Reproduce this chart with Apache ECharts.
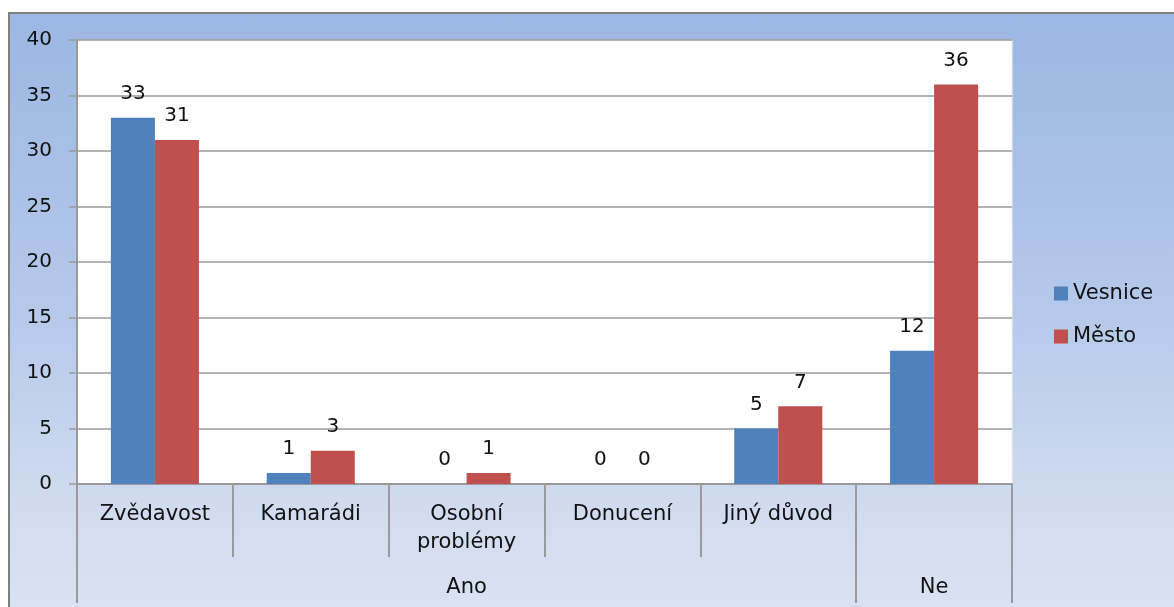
<!DOCTYPE html>
<html>
<head>
<meta charset="utf-8">
<script src="https://cdn.jsdelivr.net/npm/echarts@6/dist/echarts.min.js"></script>
<style>
  html, body { margin: 0; padding: 0; background: #ffffff; width: 1174px; height: 607px; overflow: hidden; }
  #frame {
    position: absolute; left: 8px; top: 12px; width: 1200px; height: 640px;
    border-left: 2px solid #7f7f7f; border-top: 2px solid #7f7f7f;
    background: linear-gradient(to bottom, #9bb7e3 0%, #b4c8ea 45%, #d3ddf0 80%, #dde5f3 100%);
  }
  #chart { position: absolute; left: 0; top: 0; width: 1174px; height: 607px; }
</style>
</head>
<body>
<div id="frame"></div>
<div id="chart"></div>
<script>
// Reasons (first level) grouped by answer (second level)
const categories = ['Zvědavost', 'Kamarádi', 'Osobní\nproblémy', 'Donucení', 'Jiný důvod', ''];
const groupLabels = ['', '', 'Ano', '', '', 'Ne'];
const groupStarts = [0, 5];           // first category index of each group
const vesnice = [33, 1, 0, 0, 5, 12];
const mesto = [31, 3, 1, 0, 7, 36];
const seriesNames = ['Vesnice', 'Město'];
const yTicks = { min: 0, max: 40, interval: 5 };

const FONT = 'DejaVu Sans';
const gridGray = '#9a9a9a';
const textColor = '#111111';

const chart = echarts.init(document.getElementById('chart'), null, { renderer: 'canvas' });

const labelStyle = {
  show: true,
  position: 'top',
  distance: 14,
  color: textColor,
  fontFamily: FONT,
  fontSize: 20
};

chart.setOption({
  backgroundColor: 'transparent',
  animation: false,
  textStyle: { fontFamily: FONT },
  grid: {
    left: 77, right: 162, top: 40, bottom: 123,
    show: true, backgroundColor: '#ffffff', borderWidth: 1, borderColor: '#f2f2f2',
    containLabel: false
  },
  legend: {
    orient: 'vertical',
    left: 1054, top: 283,
    padding: 0,
    itemWidth: 14, itemHeight: 14, itemGap: 22,
    icon: 'rect',
    textStyle: { fontFamily: FONT, fontSize: 21, color: textColor },
    data: seriesNames
  },
  xAxis: [
    {
      type: 'category',
      data: categories,
      position: 'bottom',
      axisLine: { show: true, lineStyle: { color: gridGray, width: 2 } },
      axisTick: { show: true, length: 73, interval: 0, lineStyle: { color: gridGray, width: 2 } },
      axisLabel: {
        interval: 0, margin: 17, color: textColor,
        fontFamily: FONT, fontSize: 21, lineHeight: 28
      },
      splitLine: { show: false }
    },
    {
      type: 'category',
      data: groupLabels,
      position: 'bottom',
      axisLine: { show: false },
      axisTick: {
        show: true, length: 119,
        interval: (index) => groupStarts.indexOf(index) !== -1,
        lineStyle: { color: gridGray, width: 2 }
      },
      axisLabel: {
        interval: 0, margin: 90, color: textColor,
        fontFamily: FONT, fontSize: 21, lineHeight: 28
      },
      splitLine: { show: false }
    }
  ],
  yAxis: {
    type: 'value',
    min: yTicks.min, max: yTicks.max, interval: yTicks.interval,
    axisLine: { show: true, lineStyle: { color: gridGray, width: 2 } },
    axisTick: { show: true, length: 8, lineStyle: { color: gridGray, width: 1.5 } },
    axisLabel: { margin: 25, color: textColor, fontFamily: FONT, fontSize: 20 },
    splitLine: { show: true, lineStyle: { color: gridGray, width: 1.5 } }
  },
  series: [
    {
      name: seriesNames[0], type: 'bar', xAxisIndex: 0,
      data: vesnice,
      barGap: '0%', barCategoryGap: '43.5%',
      itemStyle: { color: '#4f81bd' },
      label: labelStyle
    },
    {
      name: seriesNames[1], type: 'bar', xAxisIndex: 0,
      data: mesto,
      barGap: '0%', barCategoryGap: '43.5%',
      itemStyle: { color: '#c0504d' },
      label: labelStyle
    }
  ]
});
</script>
</body>
</html>
